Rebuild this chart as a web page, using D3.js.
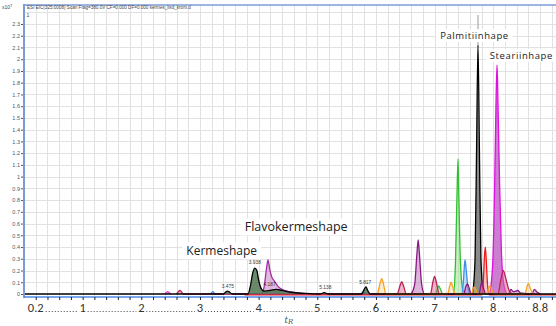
<!DOCTYPE html>
<html>
<head>
<meta charset="utf-8">
<script src="https://cdn.jsdelivr.net/npm/d3@7"></script>
<style>
  html, body { margin: 0; padding: 0; background: #fff; }
  svg { display: block; }
</style>
</head>
<body>
<div id="chart"></div>
<script>
// tick labels
const xTickVals = [0.2, 1, 2, 3, 4, 5, 6, 7, 8, 8.8];
const xTickLabels = ['0.2', '1', '2', '3', '4', '5', '6', '7', '8', '8.8'];
const yTickVals = [0, 0.1, 0.2, 0.3, 0.4, 0.5, 0.6, 0.7, 0.8, 0.9, 1, 1.1, 1.2, 1.3, 1.4, 1.5, 1.6, 1.7, 1.8, 1.9, 2, 2.1, 2.2, 2.3];

// chromatogram traces, [time (min), intensity x10^7]
const traceKermes = [[0, 0], [3.40, 0], [3.44, 0.018], [3.47, 0.025], [3.50, 0.018], [3.55, 0], [3.82, 0], [3.86, 0.07],
  [3.90, 0.18], [3.935, 0.22], [3.97, 0.2], [4.00, 0.12], [4.04, 0.05], [4.09, 0.025], [4.20, 0.03], [4.30, 0.04],
  [4.40, 0.03], [4.55, 0.015], [4.80, 0.005], [5.05, 0], [5.12, 0.012], [5.18, 0], [5.76, 0], [5.80, 0.04],
  [5.83, 0.06], [5.86, 0.03], [5.90, 0], [9.07, 0]];
const traceFlavo = [[4.05, 0], [4.09, 0.05], [4.13, 0.2], [4.16, 0.29], [4.19, 0.21], [4.22, 0.15], [4.27, 0.11],
  [4.33, 0.065], [4.40, 0.04], [4.50, 0.022], [4.65, 0.01], [4.80, 0]];
const tracePurple = [[6.60, 0], [6.66, 0.08], [6.70, 0.35], [6.72, 0.46], [6.74, 0.35], [6.78, 0.08], [6.83, 0],
  [7.50, 0], [7.53, 0.06], [7.56, 0.085], [7.59, 0.05], [7.62, 0], [7.76, 0], [7.79, 0.08], [7.81, 0.1],
  [7.84, 0.04], [7.87, 0], [8.26, 0], [8.30, 0.04], [8.34, 0.02], [8.42, 0.03], [8.46, 0.01], [8.66, 0],
  [8.70, 0.04], [8.74, 0.02], [8.80, 0]];
const traceCrimson = [[2.60, 0], [2.66, 0.03], [2.72, 0], [6.36, 0], [6.41, 0.07], [6.44, 0.105], [6.47, 0.07],
  [6.52, 0], [6.93, 0], [6.97, 0.1], [7.0, 0.15], [7.03, 0.1], [7.08, 0], [8.08, 0], [8.13, 0.12], [8.17, 0.2],
  [8.21, 0.14], [8.27, 0.03], [8.32, 0]];
const traceOrange = [[6.03, 0], [6.07, 0.09], [6.10, 0.13], [6.13, 0.08], [6.17, 0], [7.22, 0], [7.26, 0.07],
  [7.28, 0.1], [7.31, 0.06], [7.35, 0], [7.63, 0], [7.66, 0.05], [7.68, 0.06], [7.71, 0.03], [7.74, 0],
  [7.90, 0], [7.93, 0.06], [7.95, 0.07], [7.98, 0.03], [8.01, 0], [8.54, 0], [8.58, 0.07], [8.60, 0.09],
  [8.63, 0.05], [8.67, 0]];
const traceGreen = [[7.02, 0], [7.05, 0.05], [7.07, 0.07], [7.10, 0.04], [7.14, 0], [7.32, 0], [7.355, 0.25],
  [7.38, 0.8], [7.40, 1.15], [7.415, 0.8], [7.44, 0.28], [7.48, 0.04], [7.52, 0]];
const traceBlue = [[3.18, 0], [3.22, 0.02], [3.26, 0], [5.74, 0], [5.78, 0.02], [5.82, 0], [7.46, 0], [7.49, 0.1],
  [7.51, 0.25], [7.52, 0.29], [7.54, 0.2], [7.57, 0.05], [7.60, 0]];
const traceMagentaSmall = [[2.40, 0], [2.45, 0.02], [2.50, 0]];
const tracePalmitic = [[7.65, 0], [7.69, 0.3], [7.715, 1.2], [7.74, 2.12], [7.765, 1.2], [7.79, 0.3], [7.83, 0]];
const traceRed = [[3.76, -0.008], [7.80, -0.008], [7.83, 0.1], [7.85, 0.32], [7.865, 0.40], [7.88, 0.3],
  [7.90, 0.1], [7.93, -0.008], [9.07, -0.008]];
const traceStearic = [[7.94, 0], [7.99, 0.25], [8.02, 0.8], [8.05, 1.7], [8.065, 1.95], [8.08, 1.65], [8.11, 0.9],
  [8.14, 0.35], [8.18, 0.08], [8.23, 0]];

// peak labels: time, height, text
const peakLabelT = [3.935, 4.187, 3.475, 5.138, 5.817];
const peakLabelV = [0.24, 0.05, 0.035, 0.025, 0.07];
const peakLabelText = ['3.938', '4.187', '3.475', '5.138', '5.817'];

// compound annotations
const compoundNames = ['Kermeshape', 'Flavokermeshape', 'Palmitiinhape', 'Steariinhape'];
const compoundT = [3.37, 4.64, 7.68, 8.48];
const compoundV = [0.366, 0.57, 2.20, 2.03];

const width = 556, height = 326;
const svg = d3.select('#chart').append('svg')
  .attr('width', width)
  .attr('height', height);

const x = d3.scaleLinear().domain([0, 9.07]).range([24, 556]);
const y = d3.scaleLinear().domain([0, 2.3]).range([294, 24]);
const plotTop = 5;

svg.append('defs').append('clipPath').attr('id', 'plot')
  .append('rect').attr('x', 24).attr('y', plotTop).attr('width', 556 - 24).attr('height', 296 - plotTop);

// grid
const grid = svg.append('g').attr('stroke', '#e1e1e1').attr('stroke-width', 1);
grid.selectAll('line.v')
  .data(d3.range(0.2, 9.07, 0.2))
  .join('line')
  .attr('x1', d => Math.round(x(d)) + 0.5).attr('x2', d => Math.round(x(d)) + 0.5)
  .attr('y1', plotTop).attr('y2', 296);
grid.selectAll('line.h')
  .data(d3.range(0.1, 2.5, 0.1))
  .join('line')
  .attr('y1', d => Math.round(y(d)) + 0.5).attr('y2', d => Math.round(y(d)) + 0.5)
  .attr('x1', 24).attr('x2', 556);

// traces
const traces = [
  { data: traceStearic, stroke: '#e010e0', fill: 'rgba(195,105,200,0.85)' },
  { data: tracePalmitic, stroke: '#000000', fill: 'rgba(110,110,110,0.8)' },
  { data: traceGreen, stroke: '#2fbf2f', fill: 'rgba(160,228,150,0.55)' },
  { data: traceBlue, stroke: '#3a8ff0', fill: 'rgba(140,190,245,0.5)' },
  { data: traceRed, stroke: '#f01818', fill: 'rgba(245,150,150,0.55)' },
  { data: tracePurple, stroke: '#8a1a80', fill: 'rgba(190,120,190,0.55)' },
  { data: traceCrimson, stroke: '#b8245a', fill: 'rgba(220,110,150,0.5)' },
  { data: traceOrange, stroke: '#f5a020', fill: 'rgba(250,200,120,0.35)' },
  { data: traceMagentaSmall, stroke: '#e030e0', fill: 'rgba(230,120,230,0.5)' },
  { data: traceFlavo, stroke: '#a030a0', fill: 'rgba(205,140,205,0.6)' },
  { data: traceKermes, stroke: '#000000', fill: 'rgba(80,115,80,0.85)' },
];

const area = d3.area()
  .x(d => x(d[0]))
  .y0(y(0))
  .y1(d => y(d[1]))
  .curve(d3.curveMonotoneX);
const line = d3.line()
  .x(d => x(d[0]))
  .y(d => y(d[1]))
  .curve(d3.curveMonotoneX);

const tg = svg.append('g').attr('clip-path', 'url(#plot)');
traces.forEach(tr => {
  tg.append('path').attr('d', area(tr.data)).attr('fill', tr.fill);
  tg.append('path').attr('d', line(tr.data)).attr('fill', 'none')
    .attr('stroke', tr.stroke).attr('stroke-width', 1.3);
});

// marker above palmitic acid peak
tg.append('line')
  .attr('x1', x(7.74)).attr('x2', x(7.74))
  .attr('y1', 15).attr('y2', y(2.12))
  .attr('stroke', '#9a9a9a').attr('stroke-width', 1);

// axes frame
svg.append('line').attr('x1', 24).attr('x2', 556).attr('y1', plotTop).attr('y2', plotTop)
  .attr('stroke', '#7b9bd6').attr('stroke-width', 1.5);
svg.append('line').attr('x1', 24).attr('x2', 24).attr('y1', plotTop - 1).attr('y2', 298)
  .attr('stroke', '#7b9bd6').attr('stroke-width', 2);
svg.append('line').attr('x1', 24).attr('x2', 556).attr('y1', 297).attr('y2', 297)
  .attr('stroke', '#4a8ae6').attr('stroke-width', 1.6);

// y axis
const yAxis = d3.axisLeft(y).tickValues(yTickVals).tickSize(2).tickPadding(1)
  .tickFormat((d, i) => String(yTickVals[i]));
const yg = svg.append('g').attr('transform', 'translate(23,0)').call(yAxis);
yg.select('.domain').remove();
yg.selectAll('text').attr('font-family', 'Liberation Sans, Arial, sans-serif')
  .attr('font-size', 5.5).attr('fill', '#555');
yg.selectAll('line').attr('stroke', '#555');

// x axis ticks
const xAxis = d3.axisBottom(x).tickValues(d3.range(0.2, 9.07, 0.2)).tickSize(3).tickFormat('');
const xg = svg.append('g').attr('transform', 'translate(0,297)').call(xAxis);
xg.select('.domain').remove();
xg.selectAll('line').attr('stroke', '#222');

// x tick labels with dotted leaders
const labY = 312;
const lab = svg.append('g').attr('font-family', 'Calibri, Carlito, Open Sans, sans-serif')
  .attr('font-size', 12.5).attr('fill', '#333');
lab.selectAll('text')
  .data(xTickVals)
  .join('text')
  .attr('x', d => x(d))
  .attr('y', labY)
  .attr('text-anchor', 'middle')
  .text((d, i) => xTickLabels[i]);
const leaders = d3.pairs(xTickVals);
svg.append('g').selectAll('line')
  .data(leaders)
  .join('line')
  .attr('x1', d => x(d[0]) + (d[0] === 0.2 ? 10 : 5))
  .attr('x2', d => x(d[1]) - (d[1] === 8.8 ? 10 : 5))
  .attr('y1', labY - 0.5).attr('y2', labY - 0.5)
  .attr('stroke', '#444').attr('stroke-width', 1)
  .attr('stroke-dasharray', '1,2');

// x axis title
const xt = svg.append('text').attr('x', x(4.44)).attr('y', 323)
  .attr('font-family', 'DejaVu Serif, serif').attr('font-style', 'italic')
  .attr('font-size', 9).attr('fill', '#555');
xt.append('tspan').text('t');
xt.append('tspan').attr('font-size', 7).attr('dy', 1).text('R');

// header
const hdr = svg.append('text').attr('x', 2).attr('y', 9)
  .attr('font-family', 'Liberation Sans, Arial, sans-serif').attr('font-size', 5).attr('fill', '#444');
hdr.append('tspan').text('x10');
hdr.append('tspan').attr('dy', -2).attr('font-size', 4).text('7');
svg.append('text').attr('x', 27).attr('y', 9)
  .attr('font-family', 'Liberation Sans, Arial, sans-serif').attr('font-size', 4.6).attr('fill', '#444')
  .text('ESI EIC(325:0008) Scan Frag=380.0V CF=0.000 DF=0.000 kermes_lisd_krom.d');
svg.append('text').attr('x', 26.5).attr('y', 17)
  .attr('font-family', 'Liberation Sans, Arial, sans-serif').attr('font-size', 5).attr('fill', '#444')
  .text('1');

// peak labels
svg.append('g').selectAll('text')
  .data(peakLabelT)
  .join('text')
  .attr('x', d => x(d))
  .attr('y', (d, i) => y(peakLabelV[i]) - 2)
  .attr('text-anchor', 'middle')
  .attr('font-family', 'Liberation Sans, Arial, sans-serif')
  .attr('font-size', 4.8).attr('fill', '#333')
  .text((d, i) => peakLabelText[i]);

// compound names
const sizes = [12, 12.5, 9.5, 9.5];
const cg = svg.append('g');
compoundNames.forEach((name, i) => {
  const g = cg.append('g');
  const t = g.append('text')
    .attr('x', x(compoundT[i]))
    .attr('y', y(compoundV[i]))
    .attr('dy', '0.35em')
    .attr('text-anchor', 'middle')
    .attr('font-family', 'Open Sans, sans-serif')
    .attr('font-size', sizes[i])
    .attr('letter-spacing', i < 2 ? 0 : 0.6)
    .attr('fill', '#222')
    .text(name);
  const bb = t.node().getBBox();
  g.insert('rect', 'text')
    .attr('x', bb.x - 4).attr('y', bb.y)
    .attr('width', bb.width + 8).attr('height', bb.height)
    .attr('fill', '#fff');
});
</script>
</body>
</html>
